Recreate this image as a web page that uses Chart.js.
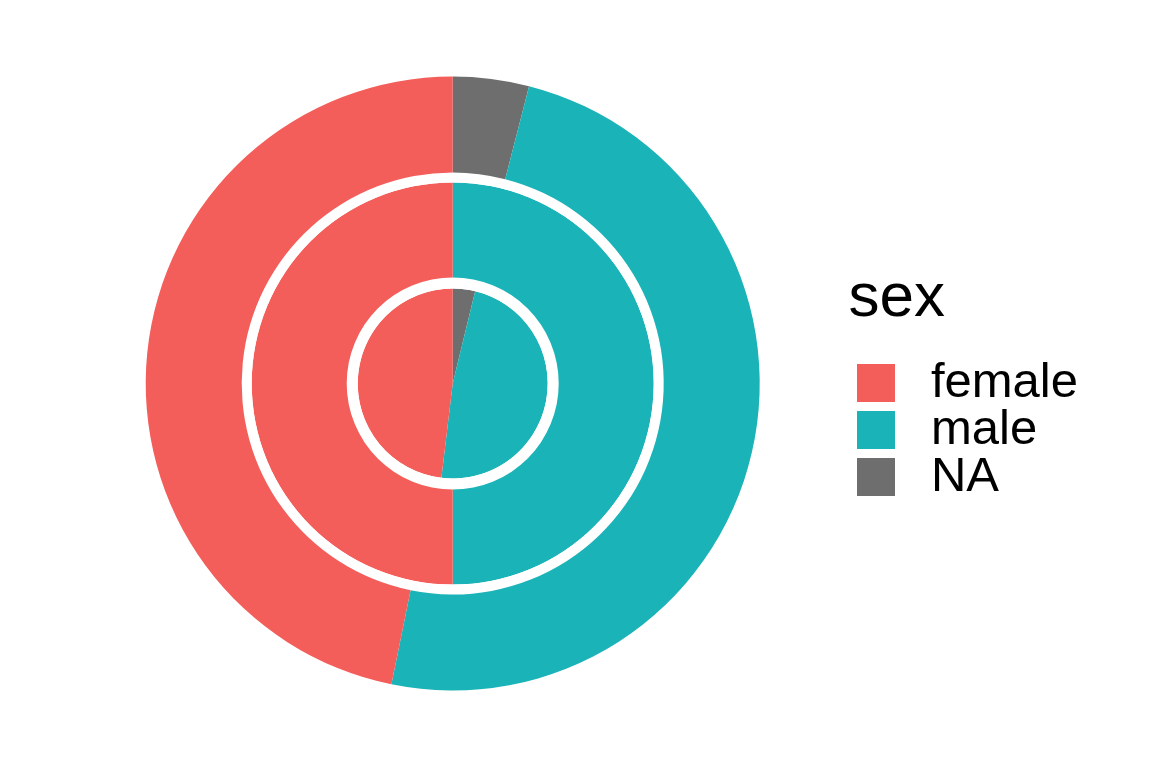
<!DOCTYPE html>
<html>
<head>
<meta charset="utf-8">
<script src="https://cdn.jsdelivr.net/npm/chart.js@4/dist/chart.umd.min.js"></script>
<style>
  html, body { margin: 0; padding: 0; background: #ffffff; }
  #wrap { width: 1152px; height: 768px; }
</style>
</head>
<body>
<div id="wrap"><canvas id="sexChart" width="1152" height="768"></canvas></div>
<script>
// categories, in drawing order (clockwise from 12 o'clock)
const categories = ["NA", "male", "female"];
const colors = ["#6E6E6E", "#1AB3B8", "#F35E5A"];

// share of each category per ring (percent)
const outerRing = [4.0, 49.2, 46.8];
const middleRing = [0, 50, 50];
const innerRing = [3.8, 48.1, 48.1];

const gap = [1]; // white separator ring

const legendTitle = "sex";

function ring(values, weight) {
  return {
    data: values,
    backgroundColor: colors,
    borderWidth: 0,
    hoverOffset: 0,
    offset: 0,
    weight: weight,
  };
}

function spacer(weight) {
  return {
    data: gap,
    backgroundColor: ["#ffffff"],
    borderWidth: 0,
    hoverOffset: 0,
    weight: weight,
  };
}

// square legend key drawn as a small canvas so the label can sit further right
function keySquare(color) {
  const c = document.createElement("canvas");
  c.width = 38;
  c.height = 38;
  const g = c.getContext("2d");
  g.fillStyle = color;
  g.fillRect(0, 0, 38, 38);
  return c;
}

const ctx = document.getElementById("sexChart").getContext("2d");

new Chart(ctx, {
  type: "doughnut",
  data: {
    labels: categories,
    datasets: [
      ring(outerRing, 96),
      spacer(10),
      ring(middleRing, 95),
      spacer(11),
      ring(innerRing, 95),
    ],
  },
  options: {
    responsive: false,
    animation: false,
    cutout: 0,
    layout: {
      padding: { left: 57, right: 64, top: 76.5, bottom: 77.5 },
    },
    plugins: {
      tooltip: { enabled: false },
      legend: {
        position: "right",
        align: "center",
        reverse: true,
        title: {
          display: true,
          text: legendTitle,
          position: "start",
          color: "#000000",
          font: { family: "'Liberation Sans', Arial, sans-serif", size: 62, lineHeight: 1.2 },
          padding: { top: 0, bottom: 18.6 },
        },
        labels: {
          usePointStyle: true,
          pointStyleWidth: 60,
          boxHeight: 38,
          padding: -2,
          color: "#000000",
          font: { family: "'Liberation Sans', Arial, sans-serif", size: 49 },
          generateLabels: (chart) => {
            const items = Chart.overrides.doughnut.plugins.legend.labels.generateLabels(chart);
            items.forEach((item) => {
              item.pointStyle = keySquare(item.fillStyle);
            });
            return items;
          },
        },
      },
    },
    events: [],
  },
});
</script>
</body>
</html>
